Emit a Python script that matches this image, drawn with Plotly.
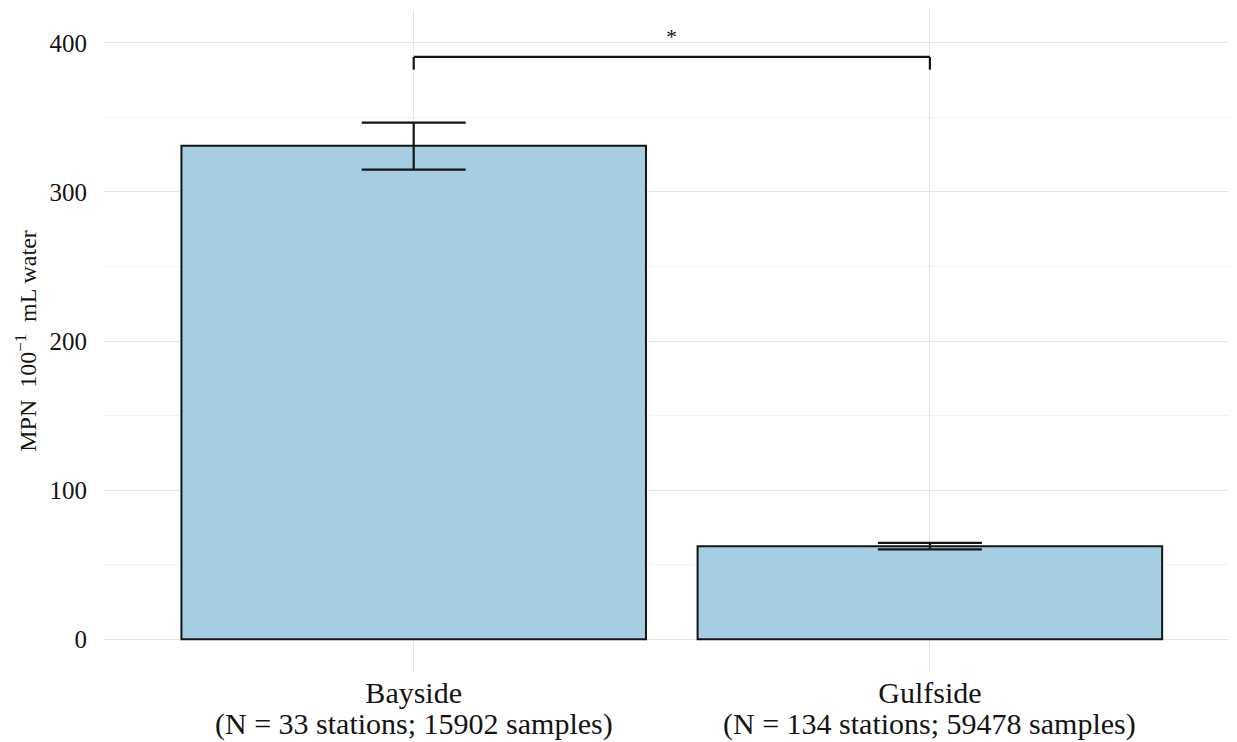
import plotly.graph_objects as go

categories = ["Bayside", "Gulfside"]
sample_info = ["(N = 33 stations; 15902 samples)", "(N = 134 stations; 59478 samples)"]
means = [331, 62.4]
err_plus = [15.5, 2.2]
err_minus = [16, 2.2]
bracket_y = 390.5
bracket_leg = 382
star_y = 404
y_ticks = [0, 100, 200, 300, 400]

INK = "#141414"
FONT = "Liberation Serif"

fig = go.Figure()
fig.add_trace(go.Bar(
    x=categories, y=means, width=0.9,
    marker=dict(color="#a6cee3", line=dict(color=INK, width=2)),
    error_y=dict(type="data", symmetric=False, array=err_plus, arrayminus=err_minus,
                 color=INK, thickness=2.2, width=52),
    showlegend=False,
))

line_style = dict(color=INK, width=2.2)
fig.add_shape(type="line", xref="x", yref="y", x0=0, x1=1, y0=bracket_y, y1=bracket_y, line=line_style)
fig.add_shape(type="line", xref="x", yref="y", x0=0, x1=0, y0=bracket_leg, y1=bracket_y, line=line_style)
fig.add_shape(type="line", xref="x", yref="y", x0=1, x1=1, y0=bracket_leg, y1=bracket_y, line=line_style)
fig.add_annotation(x=0.5, y=star_y, xref="x", yref="y", text="*", showarrow=False,
                   font=dict(size=22, color=INK, family=FONT))

for i, info in enumerate(sample_info):
    fig.add_annotation(x=i, y=0, xref="x", yref="paper", yanchor="top", yshift=-33,
                       text=info, showarrow=False, font=dict(size=30, color=INK, family=FONT))

fig.update_layout(
    width=1237, height=742,
    margin=dict(l=96, r=8, t=2, b=78),
    plot_bgcolor="white", paper_bgcolor="white",
    font=dict(family=FONT, size=25, color=INK),
    bargap=0.1,
)
fig.update_xaxes(type="category", range=[-0.6, 1.595], showgrid=True, gridcolor="#e5e5e5",
                 gridwidth=1.2, ticks="", zeroline=False, showline=False,
                 tickfont=dict(size=30, color=INK))
fig.update_yaxes(range=[-22, 422], tickvals=y_ticks, showgrid=True, gridcolor="#e5e5e5",
                 gridwidth=1.2, zeroline=False, showline=False, ticks="",
                 tickfont=dict(size=25, color=INK), ticklabelstandoff=16,
                 minor=dict(dtick=50, tick0=0, showgrid=True, gridcolor="#f2f2f2", gridwidth=1),
                 title=dict(text="MPN&nbsp; 100<sup>−1</sup>&nbsp; mL water",
                            font=dict(size=24, color=INK), standoff=6))

fig.write_html("out.html")
